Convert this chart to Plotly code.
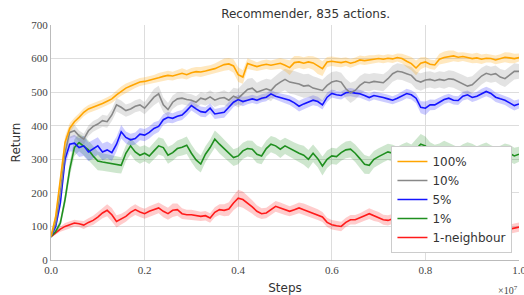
import numpy as np
import plotly.graph_objects as go

# Steps in units of 1e7 (0.00 .. 1.00, every 0.01)
steps = np.round(np.linspace(0, 1.0, 101), 2)

series_names = ["1-neighbour", "1%", "5%", "10%", "100%"]

ret_100 = [70, 130, 240, 350, 392, 412, 425, 440, 450, 455,
           460, 466, 473, 480, 492, 503, 512, 518, 525, 530,
           532, 535, 538, 543, 547, 550, 548, 553, 556, 552,
           558, 561, 560, 563, 566, 570, 576, 582, 584, 578,
           552, 545, 585, 580, 576, 580, 583, 580, 582, 586,
           580, 573, 588, 590, 586, 590, 587, 578, 570, 590,
           592, 590, 588, 591, 586, 590, 596, 594, 597, 598,
           600, 598, 601, 599, 603, 600, 592, 585, 572, 586,
           590, 583, 581, 598, 603, 606, 608, 604, 606, 603,
           600, 602, 598, 601, 600, 596, 599, 604, 602, 600, 603]
sd_100 = [5, 10, 15, 18, 15, 12, 12, 12, 12, 12,
          12, 12, 12, 12, 13, 14, 14, 14, 13, 12,
          12, 12, 13, 14, 14, 14, 13, 14, 15, 14,
          14, 14, 15, 15, 14, 15, 16, 18, 18, 20,
          22, 20, 16, 14, 13, 14, 14, 14, 15, 16,
          18, 22, 20, 18, 18, 18, 20, 24, 22, 15,
          14, 14, 14, 13, 13, 13, 13, 13, 13, 12,
          12, 12, 12, 12, 12, 14, 18, 20, 22, 18,
          15, 14, 14, 16, 18, 18, 16, 14, 13, 13,
          14, 15, 14, 13, 12, 13, 14, 15, 16, 14, 12]

ret_10 = [70, 110, 200, 320, 380, 385, 370, 360, 385, 398,
          405, 415, 412, 432, 462, 455, 445, 450, 458, 462,
          452, 468, 485, 495, 462, 448, 470, 480, 482, 478,
          476, 470, 482, 478, 486, 476, 482, 484, 476, 488,
          482, 495, 508, 512, 500, 505, 510, 505, 520, 530,
          538, 530, 528, 524, 518, 520, 512, 508, 505, 520,
          530, 534, 530, 510, 498, 505, 520, 530, 528, 532,
          530, 528, 540, 555, 562, 560, 555, 550, 535, 530,
          536, 538, 534, 538, 535, 540, 538, 532, 525, 518,
          522, 535, 548, 556, 552, 555, 545, 540, 550, 562, 562]
sd_10 = [5, 10, 15, 18, 18, 18, 16, 16, 16, 16,
         16, 18, 18, 18, 20, 20, 18, 18, 18, 18,
         18, 20, 24, 24, 22, 20, 20, 20, 18, 18,
         18, 18, 18, 18, 20, 20, 20, 22, 22, 25,
         28, 30, 32, 30, 28, 30, 30, 32, 30, 30,
         32, 35, 35, 35, 35, 35, 35, 35, 32, 30,
         30, 28, 28, 30, 30, 28, 28, 26, 26, 25,
         25, 25, 24, 24, 24, 24, 24, 25, 26, 26,
         25, 24, 24, 24, 25, 25, 25, 26, 26, 26,
         25, 25, 25, 24, 24, 24, 24, 25, 25, 24, 22]

ret_5 = [70, 100, 170, 300, 345, 348, 335, 340, 322, 330,
         340, 322, 328, 320, 345, 382, 365, 358, 362, 375,
         372, 380, 392, 398, 418, 425, 422, 428, 432, 445,
         460, 450, 442, 440, 452, 435, 438, 440, 455, 470,
         478, 472, 476, 480, 476, 482, 485, 495, 488, 484,
         480, 476, 468, 458, 465, 470, 476, 472, 462, 485,
         496, 492, 490, 498, 500, 497, 495, 490, 484, 490,
         488, 484, 480, 476, 482, 488, 496, 492, 482, 455,
         452, 462, 462, 470, 478, 482, 476, 475, 488, 492,
         484, 488, 496, 502, 496, 485, 480, 476, 468, 460, 465]
sd_5 = [5, 10, 15, 20, 22, 25, 28, 30, 28, 28,
        26, 25, 25, 25, 22, 20, 18, 18, 18, 18,
        18, 18, 18, 17, 16, 16, 15, 15, 15, 15,
        15, 15, 15, 15, 15, 15, 16, 16, 16, 14,
        14, 14, 12, 12, 12, 12, 12, 12, 12, 12,
        13, 14, 15, 16, 16, 15, 15, 14, 14, 14,
        12, 12, 12, 12, 12, 12, 12, 12, 12, 12,
        12, 12, 12, 12, 12, 14, 14, 14, 15, 18,
        20, 16, 15, 14, 13, 13, 13, 13, 13, 13,
        13, 13, 14, 14, 14, 14, 14, 14, 15, 15, 14]

ret_1 = [70, 85, 110, 180, 270, 335, 350, 340, 328, 310,
         295, 292, 290, 287, 284, 282, 318, 340, 322, 312,
         318, 310, 325, 340, 335, 312, 320, 332, 336, 342,
         318, 298, 286, 315, 335, 360, 345, 332, 318, 305,
         310, 325, 332, 330, 315, 310, 332, 345, 340, 330,
         340, 332, 325, 318, 312, 300, 318, 302, 280, 300,
         310, 308, 320, 328, 330, 318, 302, 285, 282, 300,
         308, 315, 322, 318, 312, 320, 325, 316, 330, 345,
         340, 325, 318, 322, 330, 325, 318, 312, 320, 326,
         322, 315, 320, 325, 318, 312, 316, 322, 318, 310, 315]
sd_1 = [5, 8, 12, 18, 22, 25, 26, 28, 28, 28,
        28, 26, 25, 25, 25, 24, 24, 25, 26, 25,
        24, 24, 25, 26, 26, 25, 24, 24, 25, 26,
        26, 26, 25, 24, 24, 26, 28, 26, 25, 25,
        25, 24, 24, 25, 26, 25, 24, 24, 25, 26,
        24, 24, 25, 26, 28, 28, 26, 26, 28, 26,
        24, 24, 24, 25, 25, 26, 28, 28, 26, 25,
        25, 24, 24, 25, 25, 25, 26, 28, 30, 30,
        28, 26, 25, 25, 25, 24, 24, 24, 25, 25,
        24, 24, 25, 25, 24, 24, 24, 25, 25, 24, 22]

ret_nb = [70, 82, 92, 100, 104, 110, 108, 104, 112, 118,
          128, 140, 148, 135, 115, 122, 130, 142, 150, 143,
          138, 145, 150, 155, 145, 138, 148, 150, 138, 135,
          135, 132, 130, 132, 125, 142, 150, 148, 152, 170,
          184, 180, 170, 158, 145, 138, 140, 150, 160, 155,
          150, 145, 150, 155, 150, 145, 140, 135, 128, 112,
          105, 102, 100, 112, 120, 120, 125, 132, 138, 132,
          128, 120, 118, 122, 128, 132, 125, 118, 120, 126,
          130, 122, 115, 118, 124, 120, 112, 108, 115, 120,
          116, 110, 105, 108, 112, 106, 100, 96, 92, 95, 98]
sd_nb = [3, 6, 8, 10, 10, 10, 10, 12, 12, 14,
         15, 16, 18, 20, 18, 16, 16, 16, 16, 15,
         15, 15, 16, 16, 18, 18, 20, 18, 16, 15,
         15, 14, 14, 14, 14, 15, 16, 18, 20, 22,
         25, 24, 22, 20, 18, 16, 16, 16, 16, 16,
         16, 15, 15, 16, 18, 18, 16, 16, 15, 14,
         14, 14, 14, 14, 14, 14, 14, 15, 16, 16,
         15, 15, 15, 15, 15, 15, 15, 15, 15, 15,
         15, 15, 15, 15, 15, 15, 15, 15, 15, 15,
         15, 14, 14, 14, 14, 14, 14, 14, 14, 14, 14]

x_ticks = [0.0, 0.2, 0.4, 0.6, 0.8, 1.0]
y_ticks = [0, 100, 200, 300, 400, 500, 600, 700]

data = [
    ("1-neighbour", ret_nb, sd_nb, "#ff1a1a", "rgba(255,0,0,0.2)"),
    ("1%", ret_1, sd_1, "#1f8f1f", "rgba(34,139,34,0.22)"),
    ("5%", ret_5, sd_5, "#1414ff", "rgba(0,0,255,0.2)"),
    ("10%", ret_10, sd_10, "#888888", "rgba(128,128,128,0.22)"),
    ("100%", ret_100, sd_100, "#ffa500", "rgba(255,165,0,0.25)"),
]

fig = go.Figure()
xs = list(steps)
for name, y, sd, col, fcol in data:
    y = np.array(y, dtype=float)
    sd = np.array(sd, dtype=float)
    upper = y + sd
    lower = y - sd
    fig.add_trace(go.Scatter(
        x=xs + xs[::-1], y=list(upper) + list(lower[::-1]),
        fill="toself", fillcolor=fcol, line=dict(width=0),
        mode="lines", showlegend=False, hoverinfo="skip"))
for name, y, sd, col, fcol in data:
    fig.add_trace(go.Scatter(
        x=xs, y=y, mode="lines", name=name,
        line=dict(color=col, width=1.6)))

tick_font = dict(family="Liberation Serif", size=11, color="#444")
sans = "DejaVu Sans"

fig.update_layout(
    width=524, height=295,
    margin=dict(l=51, r=5, t=25, b=35, autoexpand=False),
    paper_bgcolor="white", plot_bgcolor="white",
    title=dict(text="Recommender, 835 actions.", x=0.544, xref="paper",
               xanchor="center", y=0.953, yanchor="middle",
               font=dict(family=sans, size=12, color="#333")),
    legend=dict(x=0.986, y=0.03, xanchor="right", yanchor="bottom",
                traceorder="reversed", bgcolor="white",
                bordercolor="#cccccc", borderwidth=1,
                font=dict(family=sans, size=12, color="#333"),
                tracegroupgap=0, itemwidth=30),
    xaxis=dict(range=[0, 1.0], tickvals=x_ticks, tickformat=".1f",
               showgrid=True, gridcolor="#dddddd", gridwidth=1,
               showline=True, linecolor="#bbbbbb", linewidth=1,
               zeroline=False, ticks="", tickfont=tick_font,
               automargin=False, ticklabeloverflow="allow",
               title=dict(text="Steps", standoff=8,
                          font=dict(family=sans, size=12, color="#333"))),
    yaxis=dict(range=[0, 700], tickvals=y_ticks,
               showgrid=True, gridcolor="#dddddd", gridwidth=1,
               showline=True, linecolor="#bbbbbb", linewidth=1,
               zeroline=False, ticks="", tickfont=tick_font,
               automargin=False,
               title=dict(text="Return", standoff=8,
                          font=dict(family=sans, size=12, color="#333"))),
    annotations=[dict(text="×10<sup>7</sup>", x=1.0, xshift=1, y=0, yshift=-22,
                      xref="paper", yref="paper", xanchor="right", yanchor="top",
                      showarrow=False,
                      font=dict(family="Liberation Serif", size=10, color="#444"))],
)

fig.write_html("out.html", config={"displayModeBar": False},
               post_script="document.body.style.margin='0';document.body.style.overflow='hidden';")
